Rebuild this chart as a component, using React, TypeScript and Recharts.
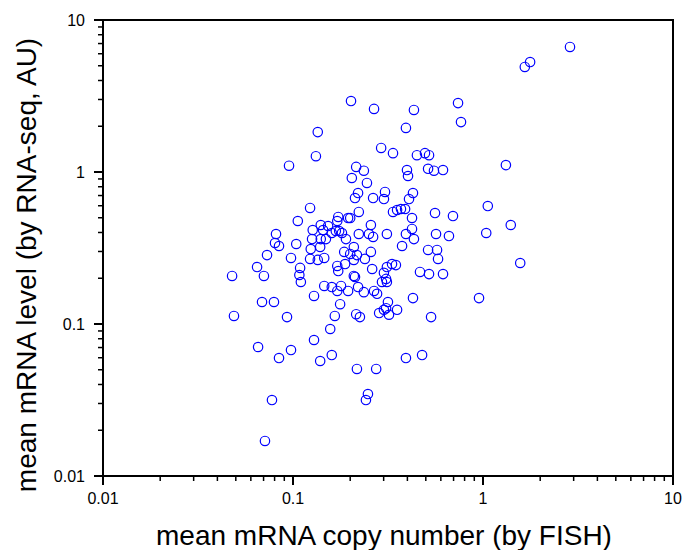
import React from 'react';
import { ScatterChart, Scatter, XAxis, YAxis, ReferenceArea } from 'recharts';

const fishCopyNumber = [
  2.87, 1.77, 1.66, 0.202, 0.739, 0.267, 0.433, 0.766, 0.393, 0.135,
  0.291, 0.336, 0.495, 0.132, 0.449, 0.52, 1.32, 0.0953, 0.215, 0.514,
  0.398, 0.616, 0.552, 0.236, 0.204, 0.245, 0.403, 0.22, 0.212, 0.264,
  0.305, 0.301, 0.428, 0.408, 0.123, 0.222, 0.336, 0.353, 0.37, 0.389,
  0.559, 0.695, 0.106, 0.423, 0.173, 0.171, 0.195, 0.2, 0.14, 0.257,
  0.153, 0.127, 0.144, 0.16, 0.168, 0.175, 0.181, 0.222, 0.251, 0.264,
  0.312, 0.393, 0.423, 0.433, 0.566, 0.662, 0.126, 0.14, 0.149, 0.19,
  0.104, 0.124, 0.139, 0.209, 0.186, 0.2, 0.217, 0.257, 0.375, 0.514,
  0.573, 0.0976, 0.123, 0.135, 0.146, 0.188, 0.209, 0.239, 0.58, 0.109,
  0.108, 0.11, 0.171, 0.173, 0.261, 0.312, 0.332, 0.348, 0.301, 0.309,
  0.294, 0.312, 0.466, 0.52, 0.616, 0.209, 0.212, 0.22, 0.146, 0.16,
  0.179, 0.171, 0.195, 0.236, 0.267, 0.277, 0.129, 0.428, 0.953, 0.177,
  0.316, 0.309, 0.301, 0.353, 0.284, 0.32, 0.093, 0.166, 0.215, 0.225,
  0.533, 1.06, 1.4, 1.04, 1.57, 0.0814, 0.0804, 0.0844, 0.073, 0.0647,
  0.0703, 0.0478, 0.0687, 0.0794, 0.0489, 0.0655, 0.0844, 0.0976, 0.0775, 0.0712,
  0.157, 0.129, 0.139, 0.16, 0.217, 0.274, 0.393, 0.478, 0.248, 0.242,
];

const rnaSeqLevel = [
  6.65, 5.29, 4.91, 2.93, 2.84, 2.6, 2.56, 2.13, 1.95, 1.83,
  1.44, 1.33, 1.33, 1.27, 1.29, 1.29, 1.11, 1.1, 1.08, 1.05,
  1.03, 1.03, 1.02, 1.02, 0.913, 0.847, 0.941, 0.727, 0.674, 0.674,
  0.739, 0.664, 0.727, 0.664, 0.58, 0.546, 0.546, 0.562, 0.571, 0.571,
  0.537, 0.513, 0.476, 0.498, 0.506, 0.476, 0.498, 0.498, 0.448, 0.448,
  0.441, 0.415, 0.415, 0.397, 0.409, 0.409, 0.397, 0.391, 0.391, 0.374,
  0.391, 0.391, 0.422, 0.362, 0.391, 0.379, 0.362, 0.362, 0.362, 0.362,
  0.336, 0.311, 0.321, 0.321, 0.298, 0.289, 0.284, 0.298, 0.326, 0.307,
  0.307, 0.272, 0.268, 0.264, 0.272, 0.248, 0.264, 0.268, 0.268, 0.234,
  0.21, 0.189, 0.241, 0.223, 0.23, 0.237, 0.248, 0.244, 0.217, 0.198,
  0.189, 0.189, 0.22, 0.213, 0.213, 0.207, 0.204, 0.175, 0.178, 0.175,
  0.178, 0.165, 0.165, 0.162, 0.165, 0.158, 0.153, 0.148, 0.148, 0.135,
  0.1395, 0.127, 0.124, 0.124, 0.118, 0.115, 0.111, 0.113, 0.116, 0.111,
  0.111, 0.597, 0.448, 0.397, 0.252, 0.391, 0.341, 0.326, 0.284, 0.237,
  0.207, 0.207, 0.1395, 0.1395, 0.113, 0.0706, 0.0597, 0.0674, 0.0316, 0.017,
  0.0927, 0.0785, 0.0571, 0.0625, 0.0506, 0.0506, 0.0597, 0.0625, 0.0346, 0.0316,
];

const majorTicks = [0.01, 0.1, 1, 10];
const allTicks = [
  0.01, 0.02, 0.03, 0.04, 0.05, 0.06, 0.07, 0.08, 0.09,
  0.1, 0.2, 0.3, 0.4, 0.5, 0.6, 0.7, 0.8, 0.9,
  1, 2, 3, 4, 5, 6, 7, 8, 9, 10,
];

const xTitle = 'mean mRNA copy number (by FISH)';
const yTitle = 'mean mRNA level (by RNA-seq, AU)';

const data = fishCopyNumber.map((x, i) => ({ x, y: rnaSeqLevel[i] }));

const FONT = '"Liberation Sans", Arial, Helvetica, sans-serif';

const isMajor = (v: number) => majorTicks.some((m) => Math.abs(m - v) < 1e-9);

const XTick = (props: any) => {
  const { x, y, payload } = props;
  const major = isMajor(payload.value);
  return (
    <g>
      <line x1={x} x2={x} y1={y} y2={y + (major ? 9 : 5)} stroke="#000" strokeWidth={major ? 2 : 1.5} />
      {major && (
        <text x={x} y={y + 28} textAnchor="middle" fontSize={16} fontFamily={FONT} fill="#000">
          {String(payload.value)}
        </text>
      )}
    </g>
  );
};

const YTick = (props: any) => {
  const { x, y, payload } = props;
  const major = isMajor(payload.value);
  return (
    <g>
      <line x1={x} x2={x - (major ? 9 : 5)} y1={y} y2={y} stroke="#000" strokeWidth={major ? 2 : 1.5} />
      {major && (
        <text x={x - 18} y={y} dy="0.36em" textAnchor="end" fontSize={16} fontFamily={FONT} fill="#000">
          {String(payload.value)}
        </text>
      )}
    </g>
  );
};

const XTitle = () => (
  <text x={384} y={545} textAnchor="middle" fontSize={28} fontFamily={FONT} fill="#000">
    {xTitle}
  </text>
);

const YTitle = () => (
  <text
    x={36}
    y={265}
    transform="rotate(-90 36 265)"
    textAnchor="middle"
    fontSize={28}
    fontFamily={FONT}
    fill="#000"
  >
    {yTitle}
  </text>
);

const OpenCircle = (props: any) => {
  const { cx, cy } = props;
  if (cx == null || cy == null) return null;
  return <circle cx={cx} cy={cy} r={4.7} fill="none" stroke="#0000ff" strokeWidth={1.2} />;
};

export default function App() {
  return (
    <div style={{ position: 'absolute', left: 0, top: 0, background: '#fff' }}>
      <ScatterChart width={683} height={550} margin={{ top: 20, right: 10, bottom: 0, left: 0 }}>
        <XAxis
          type="number"
          dataKey="x"
          scale="log"
          domain={[0.01, 10]}
          allowDataOverflow
          ticks={allTicks}
          interval={0}
          height={74}
          tickSize={0}
          tickMargin={0}
          tickLine={false}
          axisLine={{ stroke: '#000', strokeWidth: 2 }}
          tick={<XTick />}
          label={{ content: () => <XTitle /> }}
        />
        <YAxis
          type="number"
          dataKey="y"
          scale="log"
          domain={[0.01, 10]}
          allowDataOverflow
          ticks={allTicks}
          interval={0}
          width={103}
          tickSize={0}
          tickMargin={0}
          tickLine={false}
          axisLine={{ stroke: '#000', strokeWidth: 2 }}
          tick={<YTick />}
          label={{ content: () => <YTitle /> }}
        />
        <ReferenceArea
          x1={0.01}
          x2={10}
          y1={0.01}
          y2={10}
          fill="none"
          fillOpacity={0}
          stroke="#000"
          strokeWidth={2}
          ifOverflow="visible"
        />
        <Scatter data={data} shape={<OpenCircle />} isAnimationActive={false} />
      </ScatterChart>
    </div>
  );
}
